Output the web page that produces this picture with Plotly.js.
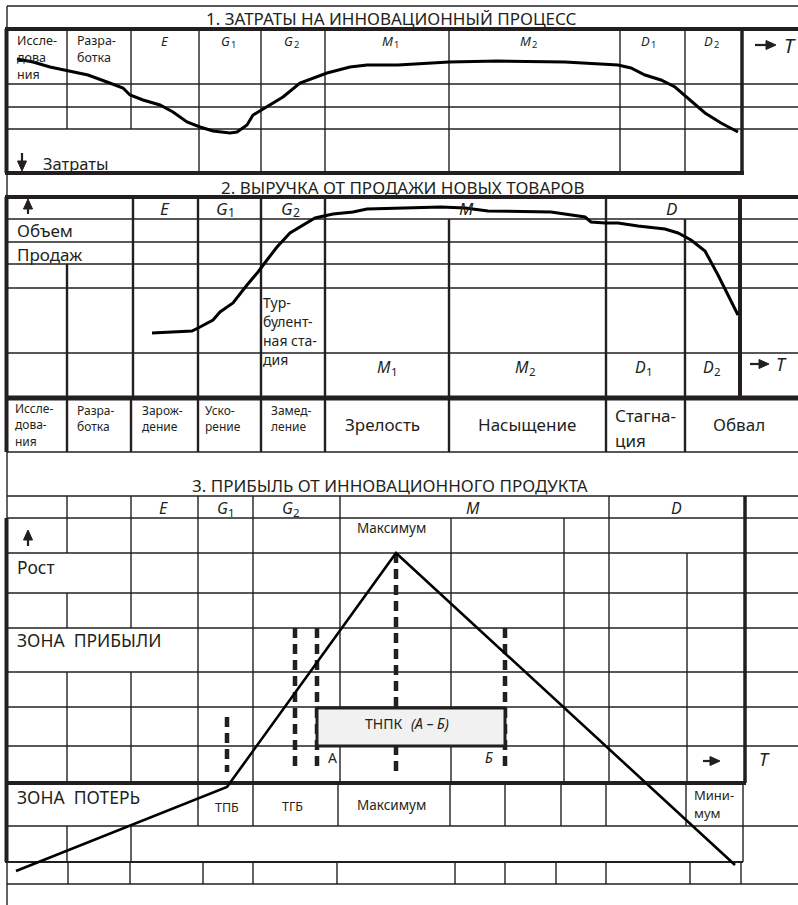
<!DOCTYPE html>
<html><head><meta charset="utf-8">
<script src="https://cdn.plot.ly/plotly-3.0.1.min.js"></script>
<style>html,body{margin:0;padding:0;background:#fff}</style>
</head><body><div id="chart" style="width:798px;height:905px"></div>
<script>
// ---------- DATA (curves, diagram coordinates) ----------
const costX = [17,33,50,70,88,107,123,130,143,160,173,187,200,213,230,237,247,253,267,283,300,313,327,350,367,398,449,498,565,618,631,645,661,675,688,705,721,738];
const costY = [59,62,67,71,75,82,88,95,100,105,112,122,127,131,133,132,125,115,107,97,83,78,73,67,65,65,62,61,62,65,68,75,80,87,98,113,123,132];
const salesX = [152,192,200,213,220,233,247,258,267,277,290,303,315,333,353,367,398,441,465,488,551,585,591,605,618,638,665,678,691,705,718,728,738];
const salesY = [333,331,327,320,312,303,285,272,260,247,233,225,218,214,212,209,208,207,208,211,212,217,222,223,223,226,229,233,240,251,275,295,315];
const profitX = [16,227,396,735];
const profitY = [871,787,553,865];

// ---------- LAYOUT GEOMETRY ----------
const INK = '#231f20';
const shapes = [];
function L(x0,y0,x1,y1,w,dash){shapes.push({type:'line',xref:'x',yref:'y',x0:x0,y0:y0,x1:x1,y1:y1,layer:'below',line:{color:INK,width:w,dash:dash||'solid'}});}
function H(y,x0,x1,w){L(x0,y,x1,y,w);}
function V(x,y0,y1,w){L(x,y0,x,y1,w);}
function tri(pts){shapes.push({type:'path',xref:'x',yref:'y',layer:'above',path:'M'+pts.map(p=>p.join(',')).join(' L')+' Z',fillcolor:INK,line:{color:INK,width:1}});}
function arrowRight(x0,x1,y){shapes.push({type:'line',xref:'x',yref:'y',x0:x0,y0:y,x1:x1-8,y1:y,line:{color:INK,width:2.2}});tri([[x1-10,y-4.5],[x1,y],[x1-10,y+4.5]]);}
function arrowDown(x,y0,y1){shapes.push({type:'line',xref:'x',yref:'y',x0:x,y0:y0,x1:x,y1:y1-8,line:{color:INK,width:2.2}});tri([[x-4.5,y1-10],[x,y1],[x+4.5,y1-10]]);}
function arrowUp(x,y0,y1){shapes.push({type:'line',xref:'x',yref:'y',x0:x,y0:y0,x1:x,y1:y1+8,line:{color:INK,width:2.2}});tri([[x-4.5,y1+10],[x,y1],[x+4.5,y1+10]]);}
const T=1.4, M=2.4, K=4;

// outer frame
V(7,6,905,T); H(6,7,798,T);

// panel 1
H(29,5,798,K); H(173,5,744,K); V(6.5,29,173,K);
[84,107,129].forEach(y=>H(y,7,798,T));
[199,261,325,449,620,685].forEach(x=>V(x,29,173,T));
[67,131].forEach(x=>V(x,29,129,T));
V(742,29,173,3.5);

// panel 2
H(197,5,798,K); H(398,5,798,5); V(6.5,197,452,K);
[219,242,264,288,353].forEach(y=>H(y,7,798,T));
V(67,264,398,M); V(133,197,398,M);
[198,261,325,606].forEach(x=>V(x,197,398,M));
[449,685].forEach(x=>V(x,219,398,M));
V(740,197,398,K);

// stage label row
[67,131,198,261,325,449,606,685].forEach(x=>V(x,398,452,M));
H(452,7,798,T);

// panel 3
H(496,7,798,T); H(518,7,798,T);
V(6.5,518,862,K);
[67,131,198,253,340,609].forEach(x=>V(x,496,518,T));
V(745,496,783,3.5);
[553,593,628,672,707,746,826,884].forEach(y=>H(y,7,798,T));
H(783,5,746,K); H(862,5,743,2);
V(67,518,553,T); V(67,593,628,T); V(67,672,783,T);
V(131,518,628,T); V(131,672,783,T);
[198,253,340,451,564,609].forEach(x=>V(x,518,783,T));
V(687,553,783,T);
[198,253,338,450,505,561,606,686].forEach(x=>V(x,783,826,T));
V(743,783,862,T);
[67,131].forEach(x=>V(x,826,862,T));
[68,130,203,253,337,455,505,556,606,690,741].forEach(x=>V(x,862,884,T));

// dashed guides and ТНПК box
const DASH='10px,6px';
L(227,717,227,772,4.5,DASH);
L(295,628,295,772,4.5,DASH);
L(317,628,317,772,4.5,DASH);
L(396,553,396,772,4.5,DASH);
L(505,628,505,772,4.5,DASH);
shapes.push({type:'rect',xref:'x',yref:'y',x0:317,x1:505,y0:708,y1:746,layer:'below',fillcolor:'#f0f1f0',line:{color:INK,width:3}});

// arrows
arrowRight(755,776,45); arrowDown(22,153,171);
arrowUp(28,214,199); arrowRight(750,769,364);
arrowUp(28,546,530); arrowRight(703,720,761);

// ---------- TEXT ----------
const F = 'Noto Sans, Open Sans, sans-serif';
const ann = [];
function A(x,y,text,size,opt,style){ann.push(Object.assign({x:x,y:y,xref:'x',yref:'y',text:text,showarrow:false,borderpad:0,font:{family:F,size:size,color:INK,style:style||'normal'}},opt||{}));}
const LEFT={xanchor:'left'};
function ML(x,y0,lines,size,gap){lines.forEach((t,i)=>A(x,y0+i*gap,t,size,LEFT));}
function IT(x,y,t,size){A(x,y,t,size,null,'italic');}
function SUB(cx,y,letter,digit,size){
  const split = cx + 0.1*size;
  A(split,y,letter,size,{xanchor:'right'},'italic');
  A(split-1.5,y+0.28*size,digit,size*0.72,{xanchor:'left'});
}
const NB='\u00a0';

// panel 1
A(391,18,'1. ЗАТРАТЫ НА ИННОВАЦИОННЫЙ ПРОЦЕСС',17);
ML(16,40,['Иссле-','дова','ния'],12.5,17);
ML(76,40,['Разра-','ботка'],12.5,17);
IT(165,41,'E',13); SUB(230,41,'G','1',13); SUB(293,41,'G','2',13);
SUB(393,41,'M','1',13); SUB(531,41,'M','2',13);
SUB(650,41,'D','1',13); SUB(713,41,'D','2',13);
A(783,45,'T',20,LEFT,'italic');
A(42,163,'Затраты',16.5,LEFT);

// panel 2
A(403,187,'2. ВЫРУЧКА ОТ ПРОДАЖИ НОВЫХ ТОВАРОВ',17);
IT(165,208,'E',17); SUB(227,208,'G','1',17); SUB(292,208,'G','2',17);
IT(466,208,'M',17); IT(671,208,'D',17);
A(16,230,'Объем',17,LEFT); A(16,254,'Продаж',17,LEFT);
ML(262,302,['Тур-','булент-','ная ста-','дия'],14,19.1);
SUB(390,367,'M','1',16); SUB(528,367,'M','2',16);
SUB(645,367,'D','1',16); SUB(713,367,'D','2',16);
A(775,364,'T',18,LEFT,'italic');

// stage row
ML(14,408,['Иссле-','дова-','ния'],12,16.5);
ML(76,410,['Разра-','ботка'],12,16.5);
ML(141,410,['Зарож-','дение'],12,16.5);
ML(204,410,['Уско-','рение'],12,16.5);
ML(270,410,['Замед-','ление'],12,16.5);
A(382,424,'Зрелость',17); A(527,424,'Насыщение',17);
ML(614,415,['Стагна-','ция'],17,25);
A(739,424,'Обвал',17);

// panel 3
A(390,485,'3. ПРИБЫЛЬ ОТ ИННОВАЦИОННОГО ПРОДУКТА',17);
IT(163,508,'E',16); SUB(227,508,'G','1',16); SUB(292,508,'G','2',16);
IT(473,508,'M',16); IT(676,508,'D',16);
A(391,528,'Максимум',13.5);
A(16,567,'Рост',17.5,LEFT);
A(16,640,'ЗОНА'+NB+NB+'ПРИБЫЛИ',17.5,LEFT);
A(403,723,'ТНПК',14,{xanchor:'right'}); A(410,723,'(А – Б)',14,LEFT,'italic');
A(332,757,'А',14); IT(489,757,'Б',14);
A(758,759,'T',18,LEFT,'italic');
A(16,797,'ЗОНА'+NB+NB+'ПОТЕРЬ',17.5,LEFT);
A(227,807,'ТПБ',12.5); A(292,806,'ТГБ',12.5); A(391,805,'Максимум',13.5);
ML(693,795,['Мини-','мум'],13,18);

// ---------- TRACES ----------
const line = {color:'#000',width:3};
const traces = [
  {x:costX,y:costY,mode:'lines',line:line,hoverinfo:'skip'},
  {x:salesX,y:salesY,mode:'lines',line:line,hoverinfo:'skip'},
  {x:profitX,y:profitY,mode:'lines',line:{color:'#000',width:2.6},hoverinfo:'skip'}
];

const layout = {
  width:798,height:905,autosize:false,
  margin:{l:0,r:0,t:0,b:0},
  paper_bgcolor:'#fff',plot_bgcolor:'#fff',
  showlegend:false,
  xaxis:{range:[0,798],visible:false,fixedrange:true},
  yaxis:{range:[905,0],visible:false,fixedrange:true},
  shapes:shapes,annotations:ann
};
Plotly.newPlot('chart',traces,layout,{staticPlot:true,displayModeBar:false});
</script></body></html>
